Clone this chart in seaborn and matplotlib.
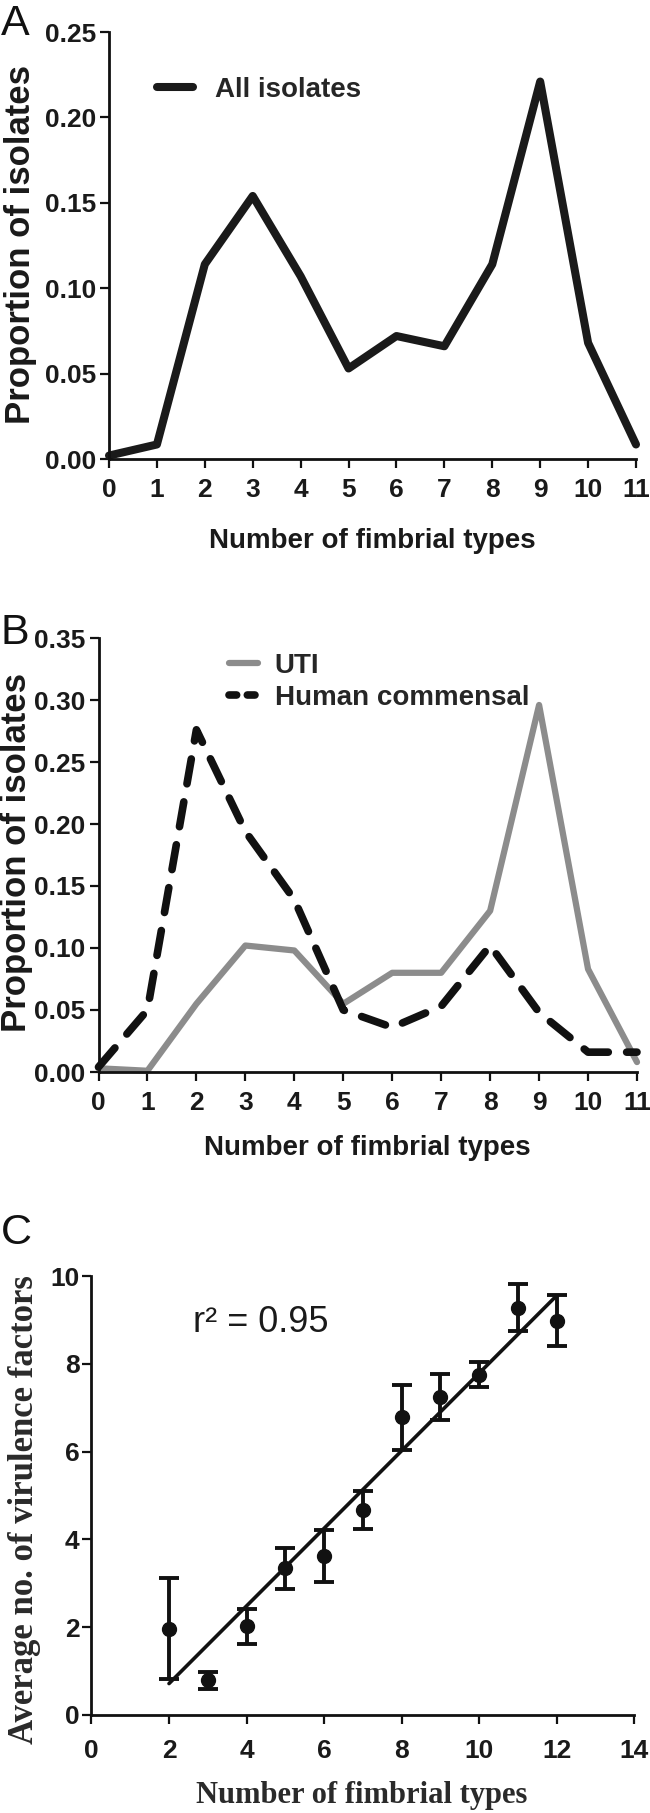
import numpy as np
import pandas as pd
import seaborn as sns
import matplotlib
matplotlib.use('Agg')
from matplotlib import pyplot as plt

# panel A: proportion of all isolates by number of fimbrial types
n_types = list(range(12))
all_isolates = [0.002, 0.0085, 0.114, 0.154, 0.107, 0.053, 0.072, 0.066, 0.114, 0.221, 0.068, 0.0085]

# panel B: UTI vs human commensal isolates
uti = [0.003, 0.001, 0.055, 0.102, 0.098, 0.055, 0.080, 0.080, 0.130, 0.296, 0.083, 0.008]
commensal = [0.004, 0.050, 0.276, 0.194, 0.139, 0.050, 0.036, 0.053, 0.102, 0.048, 0.016, 0.016]

# panel C: average number of virulence factors (mean +/- error)
fim_count = [2, 3, 4, 5, 6, 7, 8, 9, 10, 11, 12]
vf_mean = [1.97, 0.79, 2.02, 3.34, 3.63, 4.67, 6.78, 7.25, 7.75, 9.28, 8.98]
vf_err = [1.15, 0.20, 0.40, 0.46, 0.59, 0.43, 0.74, 0.52, 0.28, 0.54, 0.58]
r2_label = 'r² = 0.95'

sns.set_theme(style='ticks')
plt.rcParams['font.family'] = ['Liberation Sans', 'DejaVu Sans']

W, H = 650, 1813
fig = plt.figure(figsize=(W / 100, H / 100), dpi=100)


def box(l, t, r, b):
    # pixel box -> figure fraction
    return [l / W, 1 - b / H, (r - l) / W, (b - t) / H]


axA = fig.add_axes(box(109, 32, 636, 459))
axB = fig.add_axes(box(98.5, 638, 637, 1072))
axC = fig.add_axes(box(91.5, 1276, 634, 1715))


def style_axis(ax, xpad, ypad):
    sns.despine(ax=ax)
    for s in ['left', 'bottom']:
        ax.spines[s].set_linewidth(2)
        ax.spines[s].set_color('#111111')
    ax.tick_params(direction='out', length=6.5, width=1.6, color='#111111',
                   labelsize=19, labelcolor='#1a1a1a')
    ax.tick_params(axis='x', pad=xpad)
    ax.tick_params(axis='y', pad=ypad)
    for lab in ax.get_xticklabels() + ax.get_yticklabels():
        lab.set_fontweight('bold')
    ax.grid(False)


# ---- A ----
dfA = pd.DataFrame({'n': n_types, 'p': all_isolates})
sns.lineplot(data=dfA, x='n', y='p', ax=axA, color='#1a1a1a', lw=5.8,
             label='All isolates', clip_on=False)
axA.set_xlim(0, 11)
axA.set_ylim(0, 0.25)
axA.set_xticks(range(12))
axA.set_yticks(np.arange(0, 0.26, 0.05))
axA.set_yticklabels([f'{v:.2f}' for v in np.arange(0, 0.26, 0.05)])
style_axis(axA, 7, 3)
axA.set_xlabel('Number of fimbrial types', fontsize=20, fontweight='bold',
               color='#1a1a1a', va='center')
axA.xaxis.set_label_coords(372 / W, 1 - 541 / H, transform=fig.transFigure)
axA.set_ylabel('Proportion of isolates', fontsize=25, fontweight='bold',
               color='#1a1a1a', va='center')
axA.yaxis.set_label_coords(21 / W, 1 - 245 / H, transform=fig.transFigure)
axA.legend(loc='center left', bbox_to_anchor=(0.091, 0.864), frameon=False,
           borderpad=0, borderaxespad=0, handlelength=1.3, handletextpad=0.8,
           prop={'size': 20, 'weight': 'bold'})

# ---- B ----
dfB = pd.DataFrame({'n': n_types, 'uti': uti, 'com': commensal})
sns.lineplot(data=dfB, x='n', y='uti', ax=axB, color='#8c8c8c', lw=4.5,
             label='UTI', clip_on=False)
sns.lineplot(data=dfB, x='n', y='com', ax=axB, color='#111111', lw=5.5,
             label='Human commensal', clip_on=False,
             linestyle=(0, (3.3, 2.4)), dash_capstyle='round')
axB.set_xlim(0, 11)
axB.set_ylim(0, 0.35)
axB.set_xticks(range(12))
axB.set_yticks(np.arange(0, 0.36, 0.05))
axB.set_yticklabels([f'{v:.2f}' for v in np.arange(0, 0.36, 0.05)])
style_axis(axB, 7, 3)
axB.set_xlabel('Number of fimbrial types', fontsize=20, fontweight='bold',
               color='#1a1a1a', va='center')
axB.xaxis.set_label_coords(367 / W, 1 - 1148 / H, transform=fig.transFigure)
axB.set_ylabel('Proportion of isolates', fontsize=25, fontweight='bold',
               color='#1a1a1a', va='center')
axB.yaxis.set_label_coords(17 / W, 1 - 852 / H, transform=fig.transFigure)
legB = axB.legend(loc='center left', bbox_to_anchor=(0.242, 0.899), frameon=False,
                  borderpad=0, borderaxespad=0, handlelength=1.05,
                  handletextpad=0.6, labelspacing=0.2,
                  prop={'size': 20, 'weight': 'bold'})
legB.get_lines()[1].set_linestyle((0, (1.0, 1.4)))

# ---- C ----
axC.errorbar(fim_count, vf_mean, yerr=vf_err, fmt='o', color='#111111',
             ms=10, capsize=7, elinewidth=2.8, capthick=2.8, clip_on=False)
sns.regplot(x=fim_count, y=vf_mean, ax=axC, scatter=False, ci=None,
            color='#111111', line_kws={'lw': 2.6})
axC.set_xlim(0, 14)
axC.set_ylim(0, 10)
axC.set_xticks(range(0, 15, 2))
axC.set_yticks(range(0, 11, 2))
style_axis(axC, 11, 2)
axC.set_xlabel('Number of fimbrial types', fontsize=22, fontweight='bold',
               family=['Liberation Serif'], color='#2a2a2a', va='center')
axC.xaxis.set_label_coords(362 / W, 1 - 1795 / H, transform=fig.transFigure)
axC.set_ylabel('Average no. of virulence factors', fontsize=25,
               fontweight='bold', family=['Liberation Serif'], color='#2a2a2a',
               va='center')
axC.yaxis.set_label_coords(25 / W, 1 - 1510 / H, transform=fig.transFigure)
axC.text(2.62, 8.95, r2_label, fontsize=26, ha='left', va='center',
         color='#1a1a1a')

# panel letters
for letter, y in [('A', 24), ('B', 633), ('C', 1233)]:
    fig.text(1 / W, 1 - y / H, letter, fontsize=31, ha='left', va='center',
             color='#111111')

fig.savefig('out.png', dpi=100, facecolor='white')
